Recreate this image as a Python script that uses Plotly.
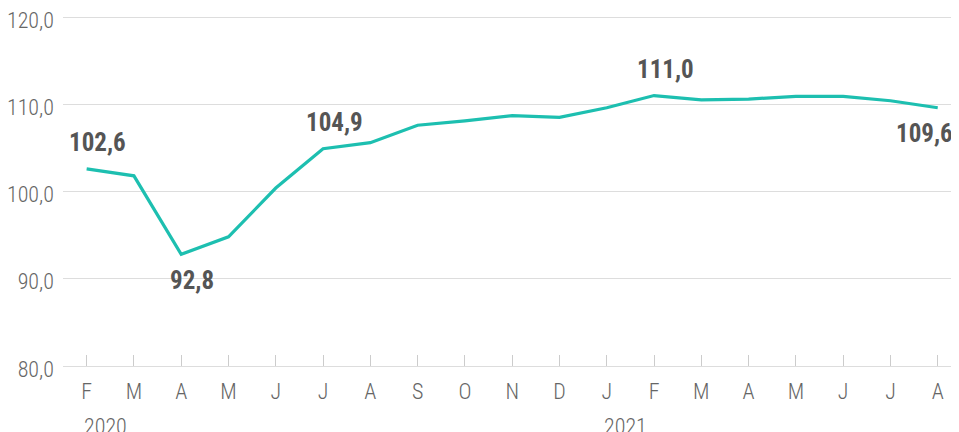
import plotly.graph_objects as go

months = ["F", "M", "A", "M", "J", "J", "A", "S", "O", "N", "D",
          "J", "F", "M", "A", "M", "J", "J", "A"]
values = [102.6, 101.8, 92.8, 94.8, 100.4, 104.9, 105.6, 107.6, 108.1, 108.7,
          108.5, 109.6, 111.0, 110.5, 110.6, 110.9, 110.9, 110.4, 109.6]
years = ["2020", "2021"]
year_start_idx = [0, 11]
labeled_idx = [0, 2, 5, 12, 18]
label_above = [True, False, True, True, False]
y_ticks = [80, 90, 100, 110, 120]

x = list(range(len(months)))

FONT = "Roboto Condensed, DejaVu Sans Condensed, Liberation Sans Narrow, Roboto, sans-serif"

fig = go.Figure()
fig.add_trace(go.Scatter(
    x=x, y=values, mode="lines",
    line=dict(color="#1dbfb0", width=3.2),
    hoverinfo="skip",
))

annotations = []
for i, above in zip(labeled_idx, label_above):
    last = i == len(x) - 1
    annotations.append(dict(
        x=x[i], y=values[i], xref="x", yref="y",
        text="<b>" + f"{values[i]:.1f}".replace(".", ",") + "</b>",
        showarrow=False,
        xanchor="right" if last else "center",
        font=dict(family=FONT, size=25, color="#555555"),
        xshift=17 if last else 11,
        yshift=26 if above else -26,
    ))
for yr, idx in zip(years, year_start_idx):
    annotations.append(dict(
        x=x[idx] - 0.09, y=-0.13, xref="x", yref="paper",
        text=yr, showarrow=False, xanchor="left", yanchor="top",
        font=dict(family=FONT, size=22, color="#666666", weight=300),
    ))

fig.update_layout(
    width=951, height=424,
    margin=dict(l=55, r=0, t=5, b=66),
    paper_bgcolor="white", plot_bgcolor="white",
    showlegend=False,
    annotations=annotations,
    xaxis=dict(
        range=[-0.5, 18.45],
        tickvals=x, ticktext=months,
        ticks="inside", ticklen=11, tickcolor="#cccccc", tickwidth=1,
        showgrid=False, zeroline=False,
        showline=True, linecolor="#dddddd", linewidth=1,
        automargin=False, ticklabelstandoff=6,
        tickfont=dict(family=FONT, size=22, color="#666666", weight=300),
    ),
    yaxis=dict(
        range=[80, 120.46],
        tickvals=y_ticks,
        ticktext=[f"{v:.1f}".replace(".", ",") for v in y_ticks],
        showgrid=True, gridcolor="#dddddd", gridwidth=1,
        zeroline=False, showline=False,
        ticks="", ticklabelstandoff=8, ticklabelshift=3,
        ticklabeloverflow="allow",
        automargin=False,
        tickfont=dict(family=FONT, size=22, color="#666666", weight=300),
    ),
)

fig.write_html("out.html")
